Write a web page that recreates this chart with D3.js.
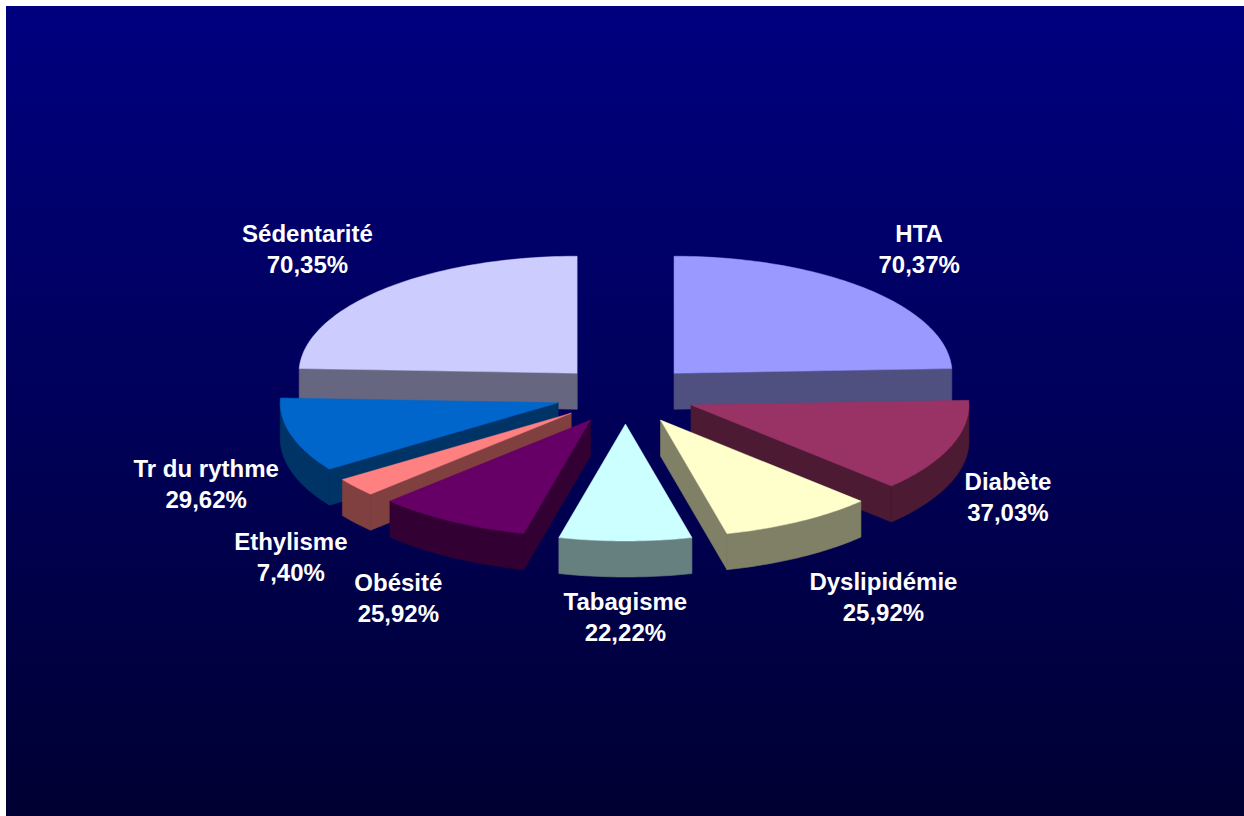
<!DOCTYPE html>
<html>
<head>
<meta charset="utf-8">
<script src="https://cdn.jsdelivr.net/npm/d3@7"></script>
<style>
  html, body { margin: 0; padding: 0; background: #fff; }
  svg { display: block; }
  text { font-family: "Liberation Sans", Arial, sans-serif; font-weight: bold; font-size: 24px; fill: #fff; }
</style>
</head>
<body>
<div id="chart"></div>
<script>
const categories = ["HTA", "Diabète", "Dyslipidémie", "Tabagisme", "Obésité", "Ethylisme", "Tr du rythme", "Sédentarité"];
const values = [70.37, 37.03, 25.92, 22.22, 25.92, 7.40, 29.62, 70.35];
const valueLabels = ["70,37%", "37,03%", "25,92%", "22,22%", "25,92%", "7,40%", "29,62%", "70,35%"];
const topColors = ["#9999ff", "#993366", "#ffffcc", "#ccffff", "#660066", "#ff8080", "#0066cc", "#ccccff"];
const sideColors = ["#4f4f80", "#4d1a33", "#808066", "#668080", "#330033", "#804040", "#003366", "#666680"];
// label centre, relative to the middle of the outer edge of each slice
const labelDx = [52.5, 57, 84, 0, -53, -65, -85, -77];
const labelDy = [-40, 51, 76, 76, 77, 70, 49, -40];

const width = 1244, height = 816;
const cx = 625.5, cy = 394.5, rx = 278, ry = 117, depth = 36, explode = 0.252;

const x = d3.scaleLinear().domain([-1, 1]).range([cx - rx, cx + rx]);
const y = d3.scaleLinear().domain([-1, 1]).range([cy + ry, cy - ry]);

const svg = d3.select("#chart").append("svg")
    .attr("width", width)
    .attr("height", height);

const grad = svg.append("defs").append("linearGradient")
    .attr("id", "bg")
    .attr("x1", 0).attr("y1", 0).attr("x2", 0).attr("y2", 1);
grad.append("stop").attr("offset", "0%").attr("stop-color", "#000080");
grad.append("stop").attr("offset", "100%").attr("stop-color", "#000033");

svg.append("rect")
    .attr("x", 6).attr("y", 6)
    .attr("width", width - 6).attr("height", height - 6)
    .attr("fill", "url(#bg)");

const pie = d3.pie().sort(null);
const slices = pie(values).map((d, i) => {
    const mid = (d.startAngle + d.endAngle) / 2;
    return {
        i,
        a0: d.startAngle,
        a1: d.endAngle,
        mid,
        ox: explode * Math.sin(mid),
        oy: explode * Math.cos(mid)
    };
});

// point of a slice on the pie plane, dz pushes it down the side
function pt(s, r, a, dz) {
    return [x(s.ox + r * Math.sin(a)), y(s.oy + r * Math.cos(a)) + (dz || 0)];
}

function arcPts(s, a0, a1, dz) {
    const n = Math.max(2, Math.ceil((a1 - a0) / 0.02));
    return d3.range(n + 1).map(k => pt(s, 1, a0 + (a1 - a0) * k / n, dz));
}

const line = d3.line();

function closed(points) {
    return line(points) + "Z";
}

function wall(s, a) {
    return closed([pt(s, 0, a), pt(s, 1, a), pt(s, 1, a, depth), pt(s, 0, a, depth)]);
}

// back slices first
const order = slices.slice().sort((p, q) => q.oy - p.oy);

const g = svg.selectAll("g.slice")
    .data(order)
    .join("g")
    .attr("class", "slice");

g.each(function (s) {
    const el = d3.select(this);
    const side = sideColors[s.i];
    const paths = [];
    if (Math.sin(s.a1) > 0) paths.push(wall(s, s.a1));
    if (Math.sin(s.a0) < 0) paths.push(wall(s, s.a0));
    // outer rim, only the part on the front half
    const r0 = Math.max(s.a0, Math.PI / 2), r1 = Math.min(s.a1, Math.PI * 1.5);
    if (r1 > r0) {
        paths.push(closed(arcPts(s, r0, r1, 0).concat(arcPts(s, r0, r1, depth).reverse())));
    }
    el.selectAll("path.side")
        .data(paths)
        .join("path")
        .attr("class", "side")
        .attr("d", d => d)
        .attr("fill", side)
        .attr("stroke", side)
        .attr("stroke-width", 0.6);
    el.append("path")
        .attr("d", closed([pt(s, 0, s.a0)].concat(arcPts(s, s.a0, s.a1, 0))))
        .attr("fill", topColors[s.i])
        .attr("stroke", topColors[s.i])
        .attr("stroke-width", 0.5);
});

const lab = svg.selectAll("text")
    .data(slices)
    .join("text")
    .attr("text-anchor", "middle");

lab.append("tspan")
    .attr("x", s => pt(s, 1, s.mid)[0] + labelDx[s.i])
    .attr("y", s => pt(s, 1, s.mid)[1] + labelDy[s.i] - 7)
    .text(s => categories[s.i]);

lab.append("tspan")
    .attr("x", s => pt(s, 1, s.mid)[0] + labelDx[s.i])
    .attr("y", s => pt(s, 1, s.mid)[1] + labelDy[s.i] + 24)
    .text(s => valueLabels[s.i]);
</script>
</body>
</html>
